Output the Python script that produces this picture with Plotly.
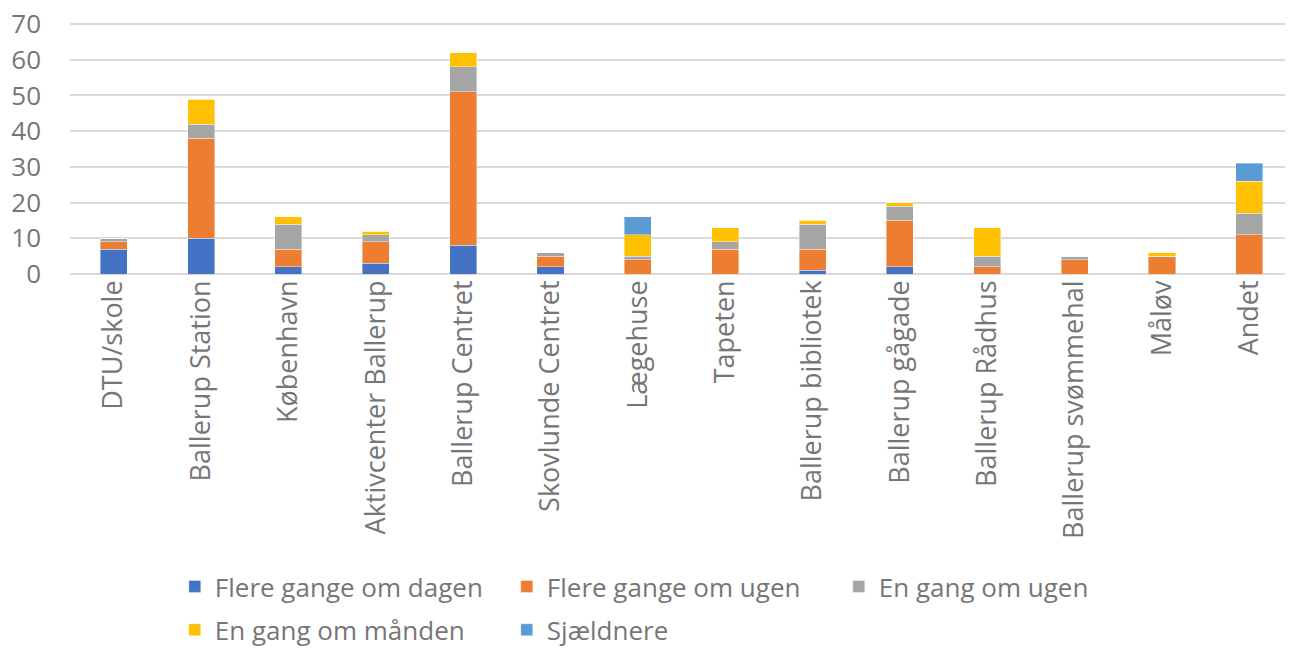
import plotly.graph_objects as go

categories = ["DTU/skole", "Ballerup Station", "København", "Aktivcenter Ballerup",
              "Ballerup Centret", "Skovlunde Centret", "Lægehuse", "Tapeten",
              "Ballerup bibliotek", "Ballerup gågade", "Ballerup Rådhus",
              "Ballerup svømmehal", "Måløv", "Andet"]

flere_dagen = [7, 10, 2, 3, 8, 2, 0, 0, 1, 2, 0, 0, 0, 0]
flere_ugen = [2, 28, 5, 6, 43, 3, 4, 7, 6, 13, 2, 4, 5, 11]
en_ugen = [1, 4, 7, 2, 7, 1, 1, 2, 7, 4, 3, 1, 0, 6]
en_maanden = [0, 7, 2, 1, 4, 0, 6, 4, 1, 1, 8, 0, 1, 9]
sjaeldnere = [0, 0, 0, 0, 0, 0, 5, 0, 0, 0, 0, 0, 0, 5]

series = [
    ("Flere gange om dagen", flere_dagen, "#4472C4", "legend"),
    ("Flere gange om ugen", flere_ugen, "#ED7D31", "legend"),
    ("En gang om ugen", en_ugen, "#A5A5A5", "legend"),
    ("En gang om månden", en_maanden, "#FFC000", "legend2"),
    ("Sjældnere", sjaeldnere, "#5B9BD5", "legend2"),
]

y_ticks = [0, 10, 20, 30, 40, 50, 60, 70]

fig = go.Figure()
for name, vals, color, lg in series:
    fig.add_trace(go.Bar(
        name=name, x=categories, y=vals, legend=lg,
        marker=dict(color=color, line=dict(color="rgba(255,255,255,0.5)", width=0.8)),
    ))

font_color = "#767676"
legend_common = dict(orientation="h", xanchor="left", yanchor="middle",
                     font=dict(size=26, color=font_color),
                     entrywidth=287, entrywidthmode="pixels", traceorder="normal")
# plot area height 252 px; range top chosen so the 70 gridline sits 2 px below the top edge
fig.update_layout(
    barmode="stack",
    bargap=0.69,
    width=1285, height=640,
    margin=dict(l=62, r=0, t=14, b=374, autoexpand=False),
    plot_bgcolor="white", paper_bgcolor="white",
    font=dict(family="Open Sans, sans-serif", color=font_color, size=22),
    xaxis=dict(tickangle=-90, tickfont=dict(size=27, color=font_color),
               showgrid=False, showline=False, ticks="", automargin=False),
    yaxis=dict(range=[0, 70.56], tickvals=y_ticks, tickfont=dict(size=26, color=font_color),
               showgrid=True, gridcolor="#d9d9d9", gridwidth=2,
               zeroline=True, zerolinecolor="#d9d9d9", zerolinewidth=2,
               ticks="", ticklabelstandoff=28, automargin=False,
               ticklabeloverflow="allow"),
    legend=dict(x=0.0857, y=-1.240, **legend_common),
    legend2=dict(x=0.0857, y=-1.412, **legend_common),
)

fig.write_html("out.html")
